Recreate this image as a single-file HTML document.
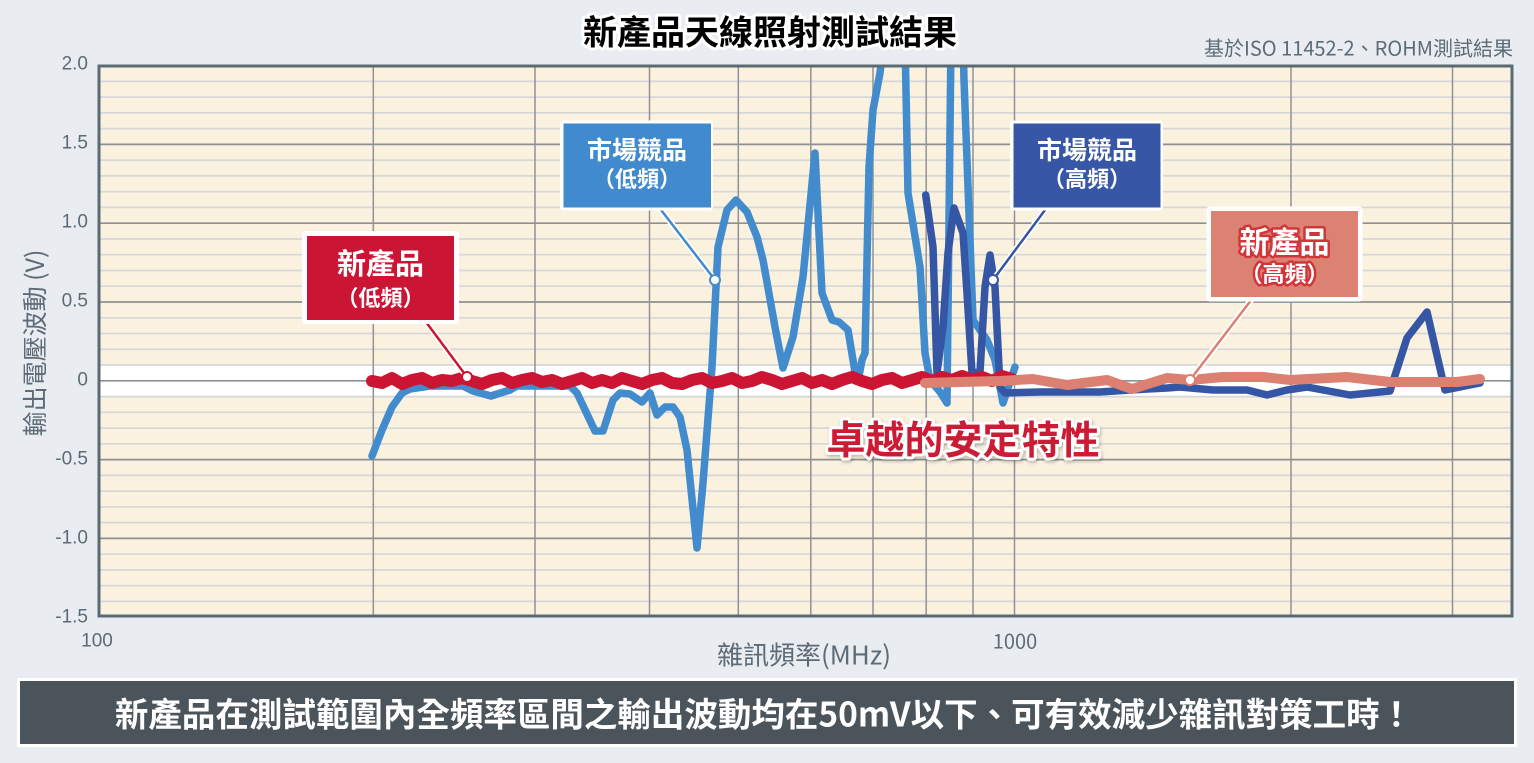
<!DOCTYPE html>
<html>
<head>
<meta charset="utf-8">
<style>
html,body{margin:0;padding:0;background:#e9ecf1;}
svg{display:block;}
text{font-family:"Liberation Sans","Noto Sans CJK TC",sans-serif;}
.cjk{font-family:"Noto Sans CJK TC","Liberation Sans",sans-serif;}
</style>
</head>
<body>
<svg width="1534" height="763" viewBox="0 0 1534 763" xmlns="http://www.w3.org/2000/svg">
<defs>
  <clipPath id="pc"><rect x="100" y="67" width="1411" height="548"/></clipPath>
  <filter id="sh" x="-10%" y="-30%" width="120%" height="160%">
    <feDropShadow dx="1" dy="2" stdDeviation="1.5" flood-color="#000" flood-opacity="0.25"/>
  </filter>
</defs>
<rect width="1534" height="763" fill="#e9ecf1"/>

<!-- Title -->
<text x="770" y="30" text-anchor="middle" dominant-baseline="central" class="cjk" font-size="34" font-weight="700" fill="#000" stroke="#fff" stroke-width="6" stroke-linejoin="round" paint-order="stroke">新產品天線照射測試結果</text>
<text x="1513" y="47" text-anchor="end" dominant-baseline="central" class="cjk" font-size="20" fill="#5d6b76">基於ISO 11452-2、ROHM測試結果</text>

<!-- Plot background -->
<rect x="99" y="66" width="1413" height="550" fill="#faf1df"/>
<rect x="100" y="365" width="1411" height="31.6" fill="#ffffff"/>

<!-- minor gridlines -->
<g stroke="#d5d7d9" stroke-width="1.7">
  <line x1="100" x2="1511" y1="81.4" y2="81.4"/>
  <line x1="100" x2="1511" y1="97.1" y2="97.1"/>
  <line x1="100" x2="1511" y1="112.9" y2="112.9"/>
  <line x1="100" x2="1511" y1="128.6" y2="128.6"/>
  <line x1="100" x2="1511" y1="160.2" y2="160.2"/>
  <line x1="100" x2="1511" y1="175.9" y2="175.9"/>
  <line x1="100" x2="1511" y1="191.7" y2="191.7"/>
  <line x1="100" x2="1511" y1="207.4" y2="207.4"/>
  <line x1="100" x2="1511" y1="239.0" y2="239.0"/>
  <line x1="100" x2="1511" y1="254.7" y2="254.7"/>
  <line x1="100" x2="1511" y1="270.5" y2="270.5"/>
  <line x1="100" x2="1511" y1="286.2" y2="286.2"/>
  <line x1="100" x2="1511" y1="317.8" y2="317.8"/>
  <line x1="100" x2="1511" y1="333.5" y2="333.5"/>
  <line x1="100" x2="1511" y1="349.3" y2="349.3"/>
  <line x1="100" x2="1511" y1="365.0" y2="365.0"/>
  <line x1="100" x2="1511" y1="396.6" y2="396.6"/>
  <line x1="100" x2="1511" y1="412.3" y2="412.3"/>
  <line x1="100" x2="1511" y1="428.1" y2="428.1"/>
  <line x1="100" x2="1511" y1="443.8" y2="443.8"/>
  <line x1="100" x2="1511" y1="475.4" y2="475.4"/>
  <line x1="100" x2="1511" y1="491.1" y2="491.1"/>
  <line x1="100" x2="1511" y1="506.9" y2="506.9"/>
  <line x1="100" x2="1511" y1="522.6" y2="522.6"/>
  <line x1="100" x2="1511" y1="554.2" y2="554.2"/>
  <line x1="100" x2="1511" y1="569.9" y2="569.9"/>
  <line x1="100" x2="1511" y1="585.7" y2="585.7"/>
  <line x1="100" x2="1511" y1="601.4" y2="601.4"/>
</g>
<!-- major gridlines -->
<g stroke="#8d9093" stroke-width="1.7">
  <line x1="100" x2="1511" y1="144.4" y2="144.4"/>
  <line x1="100" x2="1511" y1="223.2" y2="223.2"/>
  <line x1="100" x2="1511" y1="302.0" y2="302.0"/>
  <line x1="100" x2="1511" y1="380.8" y2="380.8"/>
  <line x1="100" x2="1511" y1="459.6" y2="459.6"/>
  <line x1="100" x2="1511" y1="538.4" y2="538.4"/>
</g>
<!-- vertical gridlines -->
<g stroke="#909396" stroke-width="1.5">
  <line x1="373.3" x2="373.3" y1="67" y2="615"/>
  <line x1="535" x2="535" y1="67" y2="615"/>
  <line x1="649.5" x2="649.5" y1="67" y2="615"/>
  <line x1="738.3" x2="738.3" y1="67" y2="615"/>
  <line x1="810.8" x2="810.8" y1="67" y2="615"/>
  <line x1="873" x2="873" y1="67" y2="615"/>
  <line x1="926.2" x2="926.2" y1="67" y2="615"/>
  <line x1="973" x2="973" y1="67" y2="615"/>
  <line x1="1014.5" x2="1014.5" y1="67" y2="615"/>
  <line x1="1291" x2="1291" y1="67" y2="615"/>
  <line x1="1452.5" x2="1452.5" y1="67" y2="615"/>
</g>

<!-- series -->
<g clip-path="url(#pc)" fill="none" stroke-linecap="round" stroke-linejoin="round">
  <polyline stroke="#428bcd" stroke-width="7.5" points="372,456 382,430 392,407 402,393 410,389 430,386 463,386 473,391 491,396 510,390 517,386 537,386 570,386 577,393 595,431 603,431 613,400 620,393 630,394 642,402 650,393 657,415 665,407 673,407 680,417 687,450 697,548 703,483 712,367 718,247 727,210 736,200 747,212 757,237 763,260 775,327 783,368 793,337 803,277 815,153 822,293 832,320 839,322 848,330 855,372 859,376 862,360 865,353 869,167 873,110 880,73 884,40 905,40 908,193 920,267 925,353 930,380 940,392 947,403 951,40 963,40 964,80 973,320 987,340 995,360 1003,403 1015,367"/>
  <polyline stroke="#3556a5" stroke-width="7.5" points="925.7,195 933,247 937,373 943,327 948,253 954,208 963,233 967,293 972,373 980,372 985,287 990,255 995,287 1000,387 1005,393 1040,392 1100,392 1130,390 1167,388 1180,387 1213,390 1247,390 1267,395 1287,390 1307,387 1350,395 1390,391 1407,338 1427,312 1445,390 1480,383"/>
  <polyline stroke="#cc1433" stroke-width="12" points="372,381 382,383 392,378 402,384 412,380 422,378 432,383 442,380 452,381 462,378 472,381 482,384 492,380 502,378 512,383 522,380 532,378 542,382 552,380 562,384 572,381 582,378 592,383 602,380 612,383 622,378 632,381 642,384 652,380 662,378 672,383 682,384 692,380 702,378 712,383 722,381 732,378 742,383 752,381 762,377 772,380 782,384 792,381 802,378 812,383 822,380 832,384 842,380 852,377 862,381 872,384 882,380 892,378 902,383 912,380 922,377 932,381 942,377 952,380 962,376 972,380 982,377 992,381 1002,376 1012,379"/>
  <polyline stroke="#dc8171" stroke-width="10" points="925,383 960,382 1000,381 1033,379 1067,385 1107,380 1132,389 1167,378 1190,380 1223,377 1263,377 1290,380 1347,377 1390,382 1457,382 1480,379"/>
</g>

<!-- plot border -->
<rect x="99" y="66" width="1413" height="550" fill="none" stroke="#5b6b75" stroke-width="3"/>

<!-- Y tick labels -->
<g font-size="19" fill="#5d6b76" text-anchor="end" dominant-baseline="central">
  <text x="88" y="64">2.0</text>
  <text x="88" y="143">1.5</text>
  <text x="88" y="222">1.0</text>
  <text x="88" y="301">0.5</text>
  <text x="88" y="380">0</text>
  <text x="88" y="459">-0.5</text>
  <text x="88" y="538">-1.0</text>
  <text x="88" y="617">-1.5</text>
</g>
<text x="97" y="641" font-size="19" fill="#5d6b76" text-anchor="middle" dominant-baseline="central">100</text>
<text x="1015" y="640" class="cjk" font-size="20" fill="#5d6b76" text-anchor="middle" dominant-baseline="central">1000</text>
<text x="804" y="654" class="cjk" font-size="26" fill="#5d6b76" text-anchor="middle" dominant-baseline="central">雜訊頻率(MHz)</text>
<text transform="translate(34,343) rotate(-90)" class="cjk" font-size="25" fill="#5d6b76" text-anchor="middle" dominant-baseline="central">輸出電壓波動 (V)</text>

<!-- pointer lines -->
<g stroke-linecap="round">
  <line x1="423" y1="318" x2="467" y2="377" stroke="#fff" stroke-width="6"/>
  <line x1="423" y1="318" x2="467" y2="377" stroke="#cc1433" stroke-width="2.5"/>
  <line x1="658" y1="206" x2="715" y2="280" stroke="#fff" stroke-width="6"/>
  <line x1="658" y1="206" x2="715" y2="280" stroke="#428bcd" stroke-width="2.5"/>
  <line x1="1048" y1="206" x2="993" y2="280" stroke="#fff" stroke-width="6"/>
  <line x1="1048" y1="206" x2="993" y2="280" stroke="#3556a5" stroke-width="2.5"/>
  <line x1="1255" y1="295" x2="1190" y2="380" stroke="#fff" stroke-width="6"/>
  <line x1="1255" y1="295" x2="1190" y2="380" stroke="#dc8171" stroke-width="2.5"/>
</g>
<circle cx="467" cy="377" r="5" fill="#fff" stroke="#cc1433" stroke-width="2"/>
<circle cx="715" cy="280" r="5" fill="#fff" stroke="#428bcd" stroke-width="2"/>
<circle cx="993" cy="280" r="5" fill="#fff" stroke="#3556a5" stroke-width="2"/>
<circle cx="1190" cy="380" r="5" fill="#fff" stroke="#dc8171" stroke-width="2"/>

<!-- label boxes -->
<rect x="302" y="231" width="157" height="93" rx="3" fill="#fff"/>
<rect x="307" y="236" width="147" height="84" fill="#cb1535"/>
<text x="380.5" y="262" class="cjk" font-size="29" font-weight="700" fill="#fff" text-anchor="middle" dominant-baseline="central">新產品</text>
<text x="380.5" y="297" class="cjk" font-size="22" font-weight="700" fill="#fff" text-anchor="middle" dominant-baseline="central">（低頻）</text>

<rect x="560" y="120.5" width="153" height="90" rx="3" fill="#fff"/>
<rect x="563.5" y="123.5" width="147.5" height="84" fill="#418ace"/>
<text x="637" y="149" class="cjk" font-size="25" font-weight="700" fill="#fff" text-anchor="middle" dominant-baseline="central">市場競品</text>
<text x="637" y="178" class="cjk" font-size="22" font-weight="700" fill="#fff" text-anchor="middle" dominant-baseline="central">（低頻）</text>

<rect x="1010" y="120.5" width="153" height="90" rx="3" fill="#fff"/>
<rect x="1013.5" y="123.5" width="147" height="84" fill="#3757a6"/>
<text x="1087" y="149" class="cjk" font-size="25" font-weight="700" fill="#fff" text-anchor="middle" dominant-baseline="central">市場競品</text>
<text x="1087" y="178" class="cjk" font-size="22" font-weight="700" fill="#fff" text-anchor="middle" dominant-baseline="central">（高頻）</text>

<rect x="1206.5" y="206.5" width="156" height="95" rx="3" fill="#fff"/>
<rect x="1211" y="211" width="147" height="86" fill="#dc8272"/>
<text x="1284.5" y="240" class="cjk" font-size="30" font-weight="700" fill="#fff" stroke="#d0353a" stroke-width="5" stroke-linejoin="round" paint-order="stroke" text-anchor="middle" dominant-baseline="central">新產品</text>
<text x="1284.5" y="273" class="cjk" font-size="22" font-weight="700" fill="#fff" stroke="#d0353a" stroke-width="5" stroke-linejoin="round" paint-order="stroke" text-anchor="middle" dominant-baseline="central">（高頻）</text>

<!-- emphasis text -->
<text x="963" y="438" class="cjk" font-size="39" font-weight="700" fill="#cc1a35" stroke="#fff" stroke-width="6" stroke-linejoin="round" paint-order="stroke" text-anchor="middle" dominant-baseline="central" filter="url(#sh)">卓越的安定特性</text>

<!-- bottom banner -->
<rect x="17" y="678" width="1500" height="69" fill="#fff"/>
<rect x="20" y="681" width="1494" height="63" fill="#4a545a"/>
<text x="764" y="712" class="cjk" font-size="33.5" font-weight="700" fill="#fff" text-anchor="middle" dominant-baseline="central">新產品在測試範圍內全頻率區間之輸出波動均在50mV以下、可有效減少雜訊對策工時！</text>
</svg>
</body>
</html>
